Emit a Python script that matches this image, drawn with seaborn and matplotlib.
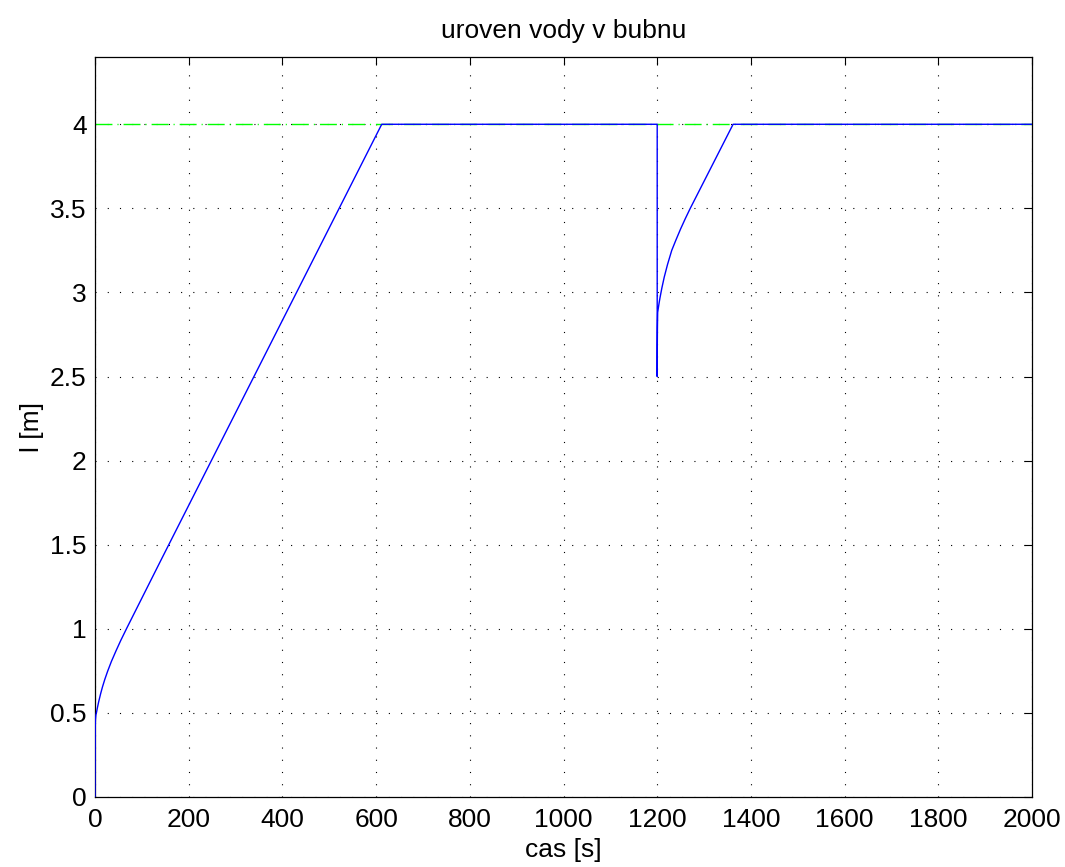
import matplotlib
matplotlib.use("Agg")
import matplotlib.pyplot as plt
import seaborn as sns
import pandas as pd

# data
time_s = [0, 0.5, 1, 2, 3, 5, 8, 12, 16, 21, 27, 35, 45, 55, 68, 142, 612,
          1200, 1200, 1200.2, 1200.5, 1201, 1202, 1204, 1206, 1210, 1215, 1222,
          1231, 1240, 1250, 1260, 1270, 1362, 2000]
level_m = [0, 0.42, 0.46, 0.49, 0.50, 0.529, 0.568, 0.614, 0.655, 0.70, 0.748,
           0.806, 0.870, 0.931, 1.005, 1.415, 4.00,
           4.00, 2.50, 2.68, 2.79, 2.881, 2.90, 2.936, 2.969, 3.027, 3.091, 3.166,
           3.25, 3.312, 3.378, 3.439, 3.497, 4.00, 4.00]
setpoint_t = [0, 2000]
setpoint_v = [4, 4]

xticks = [0, 200, 400, 600, 800, 1000, 1200, 1400, 1600, 1800, 2000]
yticks = [0, 0.5, 1, 1.5, 2, 2.5, 3, 3.5, 4]
ytick_labels = ["0", "0.5", "1", "1.5", "2", "2.5", "3", "3.5", "4"]

sns.set_style("white")
plt.rcParams['font.family'] = ['Liberation Sans', 'DejaVu Sans']
plt.rcParams['text.color'] = 'black'
plt.rcParams['axes.labelcolor'] = 'black'

fig = plt.figure(figsize=(10.65, 8.67), dpi=100)
ax = fig.add_axes([95/1065, 1-797/867, (1032-95)/1065, (797-57)/867])

df = pd.DataFrame({"t": time_s, "l": level_m})
sp = pd.DataFrame({"t": setpoint_t, "l": setpoint_v})

sns.lineplot(data=sp, x="t", y="l", ax=ax, color=(0, 1, 0),
             linewidth=1.0, estimator=None, sort=False, zorder=2)
ax.lines[-1].set_dashes((12.2, 3.6, 0.8, 3.6))
sns.lineplot(data=df, x="t", y="l", ax=ax, color=(0, 0, 1), linewidth=1.0,
             estimator=None, sort=False, zorder=3)

ax.set_xlim(0, 2000)
ax.set_ylim(0, 4.4)
ax.set_xticks(xticks)
ax.set_xticklabels([str(v) for v in xticks])
ax.set_yticks(yticks)
ax.set_yticklabels(ytick_labels)
ax.tick_params(direction="in", length=6, width=0.8, top=True, right=True,
               labelsize=19, colors="black", labelcolor="black")
ax.tick_params(axis="x", pad=8)
ax.tick_params(axis="y", pad=6)
ax.grid(True, linestyle=(0, (1, 10)), color="black", linewidth=0.8)
for s in ax.spines.values():
    s.set_color("black")
    s.set_linewidth(0.9)

ax.set_xlabel("cas [s]", fontsize=19, labelpad=4, color="black")
ax.set_ylabel("l [m]", fontsize=19, labelpad=4, color="black")
ax.set_title("uroven vody v bubnu", fontsize=19, pad=14, color="black")

fig.savefig("out.png", dpi=100, facecolor="white")
